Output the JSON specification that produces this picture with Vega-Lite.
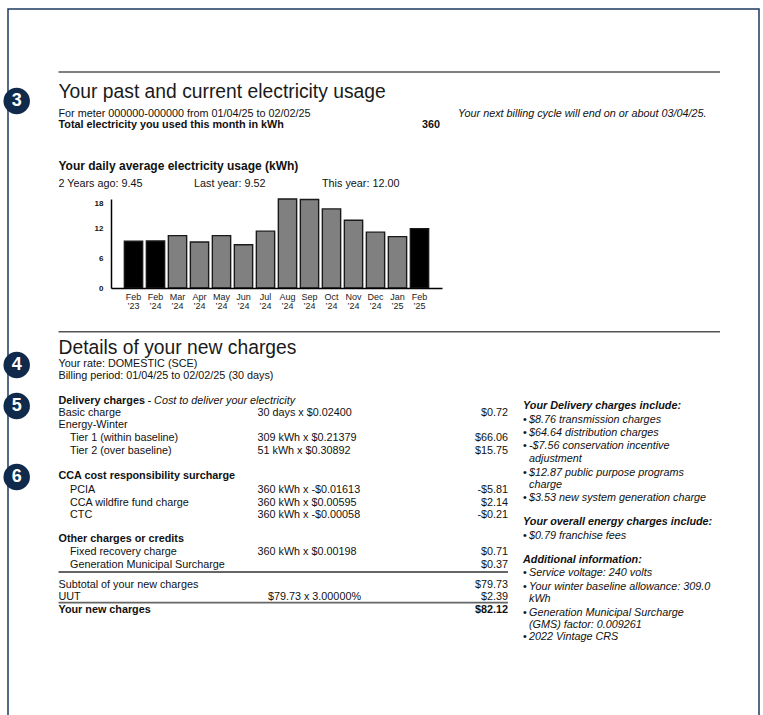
{
  "$schema": "https://vega.github.io/schema/vega-lite/v6.json",
  "width": 751,
  "height": 706,
  "autosize": {"type": "none"},
  "padding": {"left": 8, "top": 9, "right": 4, "bottom": 0},
  "background": "white",
  "config": {
    "view": {"stroke": "#1e3a5f", "strokeWidth": 1.5, "strokeDash": [1457, 751, 706], "fill": "white"}
  },
  "datasets": {
    "usage": [
      {"month": "Feb ’23", "kwh": 9.45, "group": "February"},
      {"month": "Feb ’24", "kwh": 9.52, "group": "February"},
      {"month": "Mar ’24", "kwh": 10.6, "group": "Other"},
      {"month": "Apr ’24", "kwh": 9.3, "group": "Other"},
      {"month": "May ’24", "kwh": 10.6, "group": "Other"},
      {"month": "Jun ’24", "kwh": 8.75, "group": "Other"},
      {"month": "Jul ’24", "kwh": 11.5, "group": "Other"},
      {"month": "Aug ’24", "kwh": 18.0, "group": "Other"},
      {"month": "Sep ’24", "kwh": 17.9, "group": "Other"},
      {"month": "Oct ’24", "kwh": 16.0, "group": "Other"},
      {"month": "Nov ’24", "kwh": 13.7, "group": "Other"},
      {"month": "Dec ’24", "kwh": 11.3, "group": "Other"},
      {"month": "Jan ’25", "kwh": 10.4, "group": "Other"},
      {"month": "Feb ’25", "kwh": 12.0, "group": "February"}
    ],
    "page": [
      {"line": 0, "role": "divider"},
      {"line": 1, "col": 1, "role": "heading", "text": "Your past and current electricity usage"},
      {"line": 2, "col": 1, "role": "label", "text": "For meter 000000-000000 from 01/04/25 to 02/02/25"},
      {"line": 2, "col": 9, "role": "note", "text": "Your next billing cycle will end on or about 03/04/25."},
      {"line": 3, "col": 1, "role": "label-strong", "text": "Total electricity you used this month in kWh"},
      {"line": 3, "col": 8, "role": "value-strong", "text": "360"},
      {"line": 4, "col": 1, "role": "subheading", "text": "Your daily average electricity usage (kWh)"},
      {"line": 5, "col": 1, "role": "label", "text": "2 Years ago: 9.45"},
      {"line": 5, "col": 4, "role": "label", "text": "Last year: 9.52"},
      {"line": 5, "col": 6, "role": "label", "text": "This year: 12.00"},
      {"line": 6, "role": "divider"},
      {"line": 7, "col": 1, "role": "heading", "text": "Details of your new charges"},
      {"line": 8, "col": 1, "role": "label", "text": "Your rate: DOMESTIC (SCE)"},
      {"line": 9, "col": 1, "role": "label", "text": "Billing period: 01/04/25 to 02/02/25 (30 days)"},
      {"line": 10, "col": 1, "role": "label-strong", "text": "Delivery charges"},
      {"line": 10, "col": 3, "role": "note", "text": "- Cost to deliver your electricity"},
      {"line": 11, "col": 1, "role": "label", "text": "Basic charge"},
      {"line": 11, "col": 5, "role": "label", "text": "30 days x $0.02400"},
      {"line": 11, "col": 10, "role": "value", "text": "$0.72"},
      {"line": 12, "col": 1, "role": "label", "text": "Energy-Winter"},
      {"line": 13, "col": 2, "role": "label", "text": "Tier 1 (within baseline)"},
      {"line": 13, "col": 5, "role": "label", "text": "309 kWh x $0.21379"},
      {"line": 13, "col": 10, "role": "value", "text": "$66.06"},
      {"line": 14, "col": 2, "role": "label", "text": "Tier 2 (over baseline)"},
      {"line": 14, "col": 5, "role": "label", "text": "51 kWh x $0.30892"},
      {"line": 14, "col": 10, "role": "value", "text": "$15.75"},
      {"line": 15, "col": 1, "role": "label-strong", "text": "CCA cost responsibility surcharge"},
      {"line": 16, "col": 2, "role": "label", "text": "PCIA"},
      {"line": 16, "col": 5, "role": "label", "text": "360 kWh x -$0.01613"},
      {"line": 16, "col": 10, "role": "value", "text": "-$5.81"},
      {"line": 17, "col": 2, "role": "label", "text": "CCA wildfire fund charge"},
      {"line": 17, "col": 5, "role": "label", "text": "360 kWh x $0.00595"},
      {"line": 17, "col": 10, "role": "value", "text": "$2.14"},
      {"line": 18, "col": 2, "role": "label", "text": "CTC"},
      {"line": 18, "col": 5, "role": "label", "text": "360 kWh x -$0.00058"},
      {"line": 18, "col": 10, "role": "value", "text": "-$0.21"},
      {"line": 19, "col": 1, "role": "label-strong", "text": "Other charges or credits"},
      {"line": 20, "col": 2, "role": "label", "text": "Fixed recovery charge"},
      {"line": 20, "col": 5, "role": "label", "text": "360 kWh x $0.00198"},
      {"line": 20, "col": 10, "role": "value", "text": "$0.71"},
      {"line": 21, "col": 2, "role": "label", "text": "Generation Municipal Surcharge"},
      {"line": 21, "col": 10, "role": "value", "text": "$0.37"},
      {"line": 22, "role": "underline"},
      {"line": 23, "col": 1, "role": "label", "text": "Subtotal of your new charges"},
      {"line": 23, "col": 10, "role": "value", "text": "$79.73"},
      {"line": 24, "col": 1, "role": "label", "text": "UUT"},
      {"line": 24, "col": 7, "role": "value", "text": "$79.73 x 3.00000%"},
      {"line": 24, "col": 10, "role": "value", "text": "$2.39"},
      {"line": 25, "role": "underline"},
      {"line": 26, "col": 1, "role": "label-strong", "text": "Your new charges"},
      {"line": 26, "col": 10, "role": "value-strong", "text": "$82.12"}
    ],
    "notes": [
      {"line": 0, "kind": "heading", "text": "Your Delivery charges include:"},
      {"line": 1, "kind": "bullet", "text": "$8.76 transmission charges"},
      {"line": 2, "kind": "bullet", "text": "$64.64 distribution charges"},
      {"line": 3, "kind": "bullet", "text": "-$7.56 conservation incentive"},
      {"line": 4, "kind": "continued", "text": "adjustment"},
      {"line": 5, "kind": "bullet", "text": "$12.87 public purpose programs"},
      {"line": 6, "kind": "continued", "text": "charge"},
      {"line": 7, "kind": "bullet", "text": "$3.53 new system generation charge"},
      {"line": 8, "kind": "heading", "text": "Your overall energy charges include:"},
      {"line": 9, "kind": "bullet", "text": "$0.79 franchise fees"},
      {"line": 10, "kind": "heading", "text": "Additional information:"},
      {"line": 11, "kind": "bullet", "text": "Service voltage: 240 volts"},
      {"line": 12, "kind": "bullet", "text": "Your winter baseline allowance: 309.0"},
      {"line": 13, "kind": "continued", "text": "kWh"},
      {"line": 14, "kind": "bullet", "text": "Generation Municipal Surcharge"},
      {"line": 15, "kind": "continued", "text": "(GMS) factor: 0.009261"},
      {"line": 16, "kind": "bullet", "text": "2022 Vintage CRS"}
    ],
    "steps": [
      {"step": 3},
      {"step": 4},
      {"step": 5},
      {"step": 6}
    ]
  },
  "resolve": {
    "scale": {"x": "independent", "y": "independent", "fill": "independent"},
    "axis": {"x": "independent", "y": "independent"}
  },
  "layer": [
    {
      "data": {"name": "page"},
      "transform": [{"filter": "datum.role == 'divider'"}],
      "mark": {"type": "rule", "color": "#555555", "strokeWidth": 1.4},
      "encoding": {
        "x": {"datum": 1, "type": "quantitative", "scale": {"type": "linear", "domain": [0,1,2,3,4,5,6,7,8,9,10,11,12,13], "range": [8.7,50.5,62,139.5,186,249.5,314,353,432,450,500,515,521,712], "zero": false, "nice": false}, "axis": null},
        "x2": {"datum": 13},
        "y": {"field": "line", "type": "quantitative", "scale": {"type": "linear", "domain": [0,1,2,3,4,5,6,7,8,9,10,11,12,13,14,15,16,17,18,19,20,21,22,23,24,25,26], "range": [63,82.6,105,115.5,157,174.8,322.7,338.8,354.8,366.5,391.5,404.3,415.8,428.8,442,467.2,480.8,493.5,505.8,530.2,542.8,555.8,563,575.5,588.2,593.7,600.5], "zero": false, "nice": false}, "axis": null}
      }
    },
    {
      "data": {"name": "page"},
      "transform": [{"filter": "datum.role == 'underline'"}],
      "mark": {"type": "rule", "color": "#666666", "strokeWidth": 1.8},
      "encoding": {
        "x": {"datum": 1, "type": "quantitative", "scale": {"type": "linear", "domain": [0,1,2,3,4,5,6,7,8,9,10,11,12,13], "range": [8.7,50.5,62,139.5,186,249.5,314,353,432,450,500,515,521,712], "zero": false, "nice": false}, "axis": null},
        "x2": {"datum": 10},
        "y": {"field": "line", "type": "quantitative", "scale": {"type": "linear", "domain": [0,1,2,3,4,5,6,7,8,9,10,11,12,13,14,15,16,17,18,19,20,21,22,23,24,25,26], "range": [63,82.6,105,115.5,157,174.8,322.7,338.8,354.8,366.5,391.5,404.3,415.8,428.8,442,467.2,480.8,493.5,505.8,530.2,542.8,555.8,563,575.5,588.2,593.7,600.5], "zero": false, "nice": false}, "axis": null}
      }
    },
    {
      "data": {"name": "page"},
      "transform": [{"filter": "datum.role == 'heading'"}],
      "mark": {"type": "text", "align": "left", "baseline": "middle", "font": "Liberation Sans", "fontSize": 19.3, "color": "#1a1a1a"},
      "encoding": {
        "x": {"field": "col", "type": "quantitative", "scale": {"type": "linear", "domain": [0,1,2,3,4,5,6,7,8,9,10,11,12,13], "range": [8.7,50.5,62,139.5,186,249.5,314,353,432,450,500,515,521,712], "zero": false, "nice": false}, "axis": null},
        "y": {"field": "line", "type": "quantitative", "scale": {"type": "linear", "domain": [0,1,2,3,4,5,6,7,8,9,10,11,12,13,14,15,16,17,18,19,20,21,22,23,24,25,26], "range": [63,82.6,105,115.5,157,174.8,322.7,338.8,354.8,366.5,391.5,404.3,415.8,428.8,442,467.2,480.8,493.5,505.8,530.2,542.8,555.8,563,575.5,588.2,593.7,600.5], "zero": false, "nice": false}, "axis": null},
        "text": {"field": "text"}
      }
    },
    {
      "data": {"name": "page"},
      "transform": [{"filter": "datum.role == 'subheading'"}],
      "mark": {"type": "text", "align": "left", "baseline": "middle", "font": "Liberation Sans", "fontSize": 12, "fontWeight": "bold", "color": "#111111"},
      "encoding": {
        "x": {"field": "col", "type": "quantitative", "scale": {"type": "linear", "domain": [0,1,2,3,4,5,6,7,8,9,10,11,12,13], "range": [8.7,50.5,62,139.5,186,249.5,314,353,432,450,500,515,521,712], "zero": false, "nice": false}, "axis": null},
        "y": {"field": "line", "type": "quantitative", "scale": {"type": "linear", "domain": [0,1,2,3,4,5,6,7,8,9,10,11,12,13,14,15,16,17,18,19,20,21,22,23,24,25,26], "range": [63,82.6,105,115.5,157,174.8,322.7,338.8,354.8,366.5,391.5,404.3,415.8,428.8,442,467.2,480.8,493.5,505.8,530.2,542.8,555.8,563,575.5,588.2,593.7,600.5], "zero": false, "nice": false}, "axis": null},
        "text": {"field": "text"}
      }
    },
    {
      "data": {"name": "page"},
      "transform": [{"filter": "datum.role == 'label'"}],
      "mark": {"type": "text", "align": "left", "baseline": "middle", "font": "Liberation Sans", "fontSize": 10.8, "color": "#111111"},
      "encoding": {
        "x": {"field": "col", "type": "quantitative", "scale": {"type": "linear", "domain": [0,1,2,3,4,5,6,7,8,9,10,11,12,13], "range": [8.7,50.5,62,139.5,186,249.5,314,353,432,450,500,515,521,712], "zero": false, "nice": false}, "axis": null},
        "y": {"field": "line", "type": "quantitative", "scale": {"type": "linear", "domain": [0,1,2,3,4,5,6,7,8,9,10,11,12,13,14,15,16,17,18,19,20,21,22,23,24,25,26], "range": [63,82.6,105,115.5,157,174.8,322.7,338.8,354.8,366.5,391.5,404.3,415.8,428.8,442,467.2,480.8,493.5,505.8,530.2,542.8,555.8,563,575.5,588.2,593.7,600.5], "zero": false, "nice": false}, "axis": null},
        "text": {"field": "text"}
      }
    },
    {
      "data": {"name": "page"},
      "transform": [{"filter": "datum.role == 'label-strong'"}],
      "mark": {"type": "text", "align": "left", "baseline": "middle", "font": "Liberation Sans", "fontSize": 10.8, "fontWeight": "bold", "color": "#111111"},
      "encoding": {
        "x": {"field": "col", "type": "quantitative", "scale": {"type": "linear", "domain": [0,1,2,3,4,5,6,7,8,9,10,11,12,13], "range": [8.7,50.5,62,139.5,186,249.5,314,353,432,450,500,515,521,712], "zero": false, "nice": false}, "axis": null},
        "y": {"field": "line", "type": "quantitative", "scale": {"type": "linear", "domain": [0,1,2,3,4,5,6,7,8,9,10,11,12,13,14,15,16,17,18,19,20,21,22,23,24,25,26], "range": [63,82.6,105,115.5,157,174.8,322.7,338.8,354.8,366.5,391.5,404.3,415.8,428.8,442,467.2,480.8,493.5,505.8,530.2,542.8,555.8,563,575.5,588.2,593.7,600.5], "zero": false, "nice": false}, "axis": null},
        "text": {"field": "text"}
      }
    },
    {
      "data": {"name": "page"},
      "transform": [{"filter": "datum.role == 'note'"}],
      "mark": {"type": "text", "align": "left", "baseline": "middle", "font": "Liberation Sans", "fontSize": 10.8, "fontStyle": "italic", "color": "#111111"},
      "encoding": {
        "x": {"field": "col", "type": "quantitative", "scale": {"type": "linear", "domain": [0,1,2,3,4,5,6,7,8,9,10,11,12,13], "range": [8.7,50.5,62,139.5,186,249.5,314,353,432,450,500,515,521,712], "zero": false, "nice": false}, "axis": null},
        "y": {"field": "line", "type": "quantitative", "scale": {"type": "linear", "domain": [0,1,2,3,4,5,6,7,8,9,10,11,12,13,14,15,16,17,18,19,20,21,22,23,24,25,26], "range": [63,82.6,105,115.5,157,174.8,322.7,338.8,354.8,366.5,391.5,404.3,415.8,428.8,442,467.2,480.8,493.5,505.8,530.2,542.8,555.8,563,575.5,588.2,593.7,600.5], "zero": false, "nice": false}, "axis": null},
        "text": {"field": "text"}
      }
    },
    {
      "data": {"name": "page"},
      "transform": [{"filter": "datum.role == 'value'"}],
      "mark": {"type": "text", "align": "right", "baseline": "middle", "font": "Liberation Sans", "fontSize": 10.8, "color": "#111111"},
      "encoding": {
        "x": {"field": "col", "type": "quantitative", "scale": {"type": "linear", "domain": [0,1,2,3,4,5,6,7,8,9,10,11,12,13], "range": [8.7,50.5,62,139.5,186,249.5,314,353,432,450,500,515,521,712], "zero": false, "nice": false}, "axis": null},
        "y": {"field": "line", "type": "quantitative", "scale": {"type": "linear", "domain": [0,1,2,3,4,5,6,7,8,9,10,11,12,13,14,15,16,17,18,19,20,21,22,23,24,25,26], "range": [63,82.6,105,115.5,157,174.8,322.7,338.8,354.8,366.5,391.5,404.3,415.8,428.8,442,467.2,480.8,493.5,505.8,530.2,542.8,555.8,563,575.5,588.2,593.7,600.5], "zero": false, "nice": false}, "axis": null},
        "text": {"field": "text"}
      }
    },
    {
      "data": {"name": "page"},
      "transform": [{"filter": "datum.role == 'value-strong'"}],
      "mark": {"type": "text", "align": "right", "baseline": "middle", "font": "Liberation Sans", "fontSize": 10.8, "fontWeight": "bold", "color": "#111111"},
      "encoding": {
        "x": {"field": "col", "type": "quantitative", "scale": {"type": "linear", "domain": [0,1,2,3,4,5,6,7,8,9,10,11,12,13], "range": [8.7,50.5,62,139.5,186,249.5,314,353,432,450,500,515,521,712], "zero": false, "nice": false}, "axis": null},
        "y": {"field": "line", "type": "quantitative", "scale": {"type": "linear", "domain": [0,1,2,3,4,5,6,7,8,9,10,11,12,13,14,15,16,17,18,19,20,21,22,23,24,25,26], "range": [63,82.6,105,115.5,157,174.8,322.7,338.8,354.8,366.5,391.5,404.3,415.8,428.8,442,467.2,480.8,493.5,505.8,530.2,542.8,555.8,563,575.5,588.2,593.7,600.5], "zero": false, "nice": false}, "axis": null},
        "text": {"field": "text"}
      }
    },
    {
      "data": {"name": "notes"},
      "transform": [{"filter": "datum.kind == 'heading'"}],
      "mark": {"type": "text", "align": "left", "baseline": "middle", "font": "Liberation Sans", "fontSize": 10.8, "fontWeight": "bold", "fontStyle": "italic", "color": "#111111"},
      "encoding": {
        "x": {"datum": 11, "type": "quantitative", "scale": {"type": "linear", "domain": [0,1,2,3,4,5,6,7,8,9,10,11,12,13], "range": [8.7,50.5,62,139.5,186,249.5,314,353,432,450,500,515,521,712], "zero": false, "nice": false}, "axis": null},
        "y": {"field": "line", "type": "quantitative", "scale": {"type": "linear", "domain": [0,1,2,3,4,5,6,7,8,9,10,11,12,13,14,15,16], "range": [396.5,410.8,424.2,436.8,450.2,463.5,476.2,488.8,512.5,526.8,550.8,564.2,578.2,589.8,603.5,615.8,628.2], "zero": false, "nice": false}, "axis": null},
        "text": {"field": "text"}
      }
    },
    {
      "data": {"name": "notes"},
      "transform": [{"filter": "datum.kind == 'bullet'"}],
      "mark": {"type": "text", "align": "left", "baseline": "middle", "font": "Liberation Sans", "fontSize": 10.8, "color": "#111111"},
      "encoding": {
        "x": {"datum": 11, "type": "quantitative", "scale": {"type": "linear", "domain": [0,1,2,3,4,5,6,7,8,9,10,11,12,13], "range": [8.7,50.5,62,139.5,186,249.5,314,353,432,450,500,515,521,712], "zero": false, "nice": false}, "axis": null},
        "y": {"field": "line", "type": "quantitative", "scale": {"type": "linear", "domain": [0,1,2,3,4,5,6,7,8,9,10,11,12,13,14,15,16], "range": [396.5,410.8,424.2,436.8,450.2,463.5,476.2,488.8,512.5,526.8,550.8,564.2,578.2,589.8,603.5,615.8,628.2], "zero": false, "nice": false}, "axis": null},
        "text": {"value": "•"}
      }
    },
    {
      "data": {"name": "notes"},
      "transform": [{"filter": "datum.kind != 'heading'"}],
      "mark": {"type": "text", "align": "left", "baseline": "middle", "font": "Liberation Sans", "fontSize": 10.8, "fontStyle": "italic", "color": "#111111"},
      "encoding": {
        "x": {"datum": 12, "type": "quantitative", "scale": {"type": "linear", "domain": [0,1,2,3,4,5,6,7,8,9,10,11,12,13], "range": [8.7,50.5,62,139.5,186,249.5,314,353,432,450,500,515,521,712], "zero": false, "nice": false}, "axis": null},
        "y": {"field": "line", "type": "quantitative", "scale": {"type": "linear", "domain": [0,1,2,3,4,5,6,7,8,9,10,11,12,13,14,15,16], "range": [396.5,410.8,424.2,436.8,450.2,463.5,476.2,488.8,512.5,526.8,550.8,564.2,578.2,589.8,603.5,615.8,628.2], "zero": false, "nice": false}, "axis": null},
        "text": {"field": "text"}
      }
    },
    {
      "data": {"name": "steps"},
      "mark": {"type": "point", "shape": "circle", "filled": true, "size": 700, "color": "#0f2a4a", "opacity": 1},
      "encoding": {
        "x": {"datum": 0, "type": "quantitative", "scale": {"type": "linear", "domain": [0,1,2,3,4,5,6,7,8,9,10,11,12,13], "range": [8.7,50.5,62,139.5,186,249.5,314,353,432,450,500,515,521,712], "zero": false, "nice": false}, "axis": null},
        "y": {"field": "step", "type": "quantitative", "scale": {"type": "linear", "domain": [3,4,5,6], "range": [92,356,397,468], "zero": false, "nice": false}, "axis": null}
      }
    },
    {
      "data": {"name": "steps"},
      "mark": {"type": "text", "align": "center", "baseline": "middle", "font": "Liberation Sans", "fontSize": 18, "fontWeight": "bold", "color": "#ffffff"},
      "encoding": {
        "x": {"datum": 0, "type": "quantitative", "scale": {"type": "linear", "domain": [0,1,2,3,4,5,6,7,8,9,10,11,12,13], "range": [8.7,50.5,62,139.5,186,249.5,314,353,432,450,500,515,521,712], "zero": false, "nice": false}, "axis": null},
        "y": {"field": "step", "type": "quantitative", "scale": {"type": "linear", "domain": [3,4,5,6], "range": [92,356,397,468], "zero": false, "nice": false}, "axis": null},
        "text": {"field": "step", "type": "quantitative"}
      }
    },
    {
      "data": {"name": "usage"},
      "mark": {"type": "bar", "stroke": "#1a1a1a", "strokeWidth": 1.4},
      "encoding": {
        "x": {
          "field": "month", "type": "nominal", "sort": null,
          "scale": {"type": "band", "range": [103, 434], "paddingInner": 0.168, "paddingOuter": 0.607},
          "axis": {"orient": "bottom", "offset": -427, "title": null, "labelAngle": 0, "labelExpr": "split(datum.label, ' ')", "labelFont": "Liberation Sans", "labelFontSize": 9, "labelColor": "#222222", "labelLineHeight": 9.5, "labelPadding": 4, "labelOverlap": false, "ticks": false, "tickSize": 0, "domainColor": "#000000", "domainWidth": 1.5, "grid": false, "zindex": 1}
        },
        "y": {
          "field": "kwh", "type": "quantitative",
          "scale": {"domain": [0, 18], "range": [279, 190], "nice": false, "zero": true},
          "axis": {"orient": "left", "offset": -103, "title": null, "values": [0, 6, 12, 18], "labelFont": "Liberation Sans", "labelFontSize": 8, "labelFontWeight": "bold", "labelColor": "#111111", "labelPadding": 8, "labelFlush": false, "labelBaseline": {"condition": {"test": "datum.value == 18", "value": "top"}, "value": "middle"}, "ticks": false, "tickSize": 0, "domainColor": "#000000", "domainWidth": 1.5, "grid": false, "zindex": 1}
        },
        "fill": {"field": "group", "type": "nominal", "scale": {"domain": ["February", "Other"], "range": ["#000000", "#808080"]}, "legend": null}
      }
    }
  ]
}
